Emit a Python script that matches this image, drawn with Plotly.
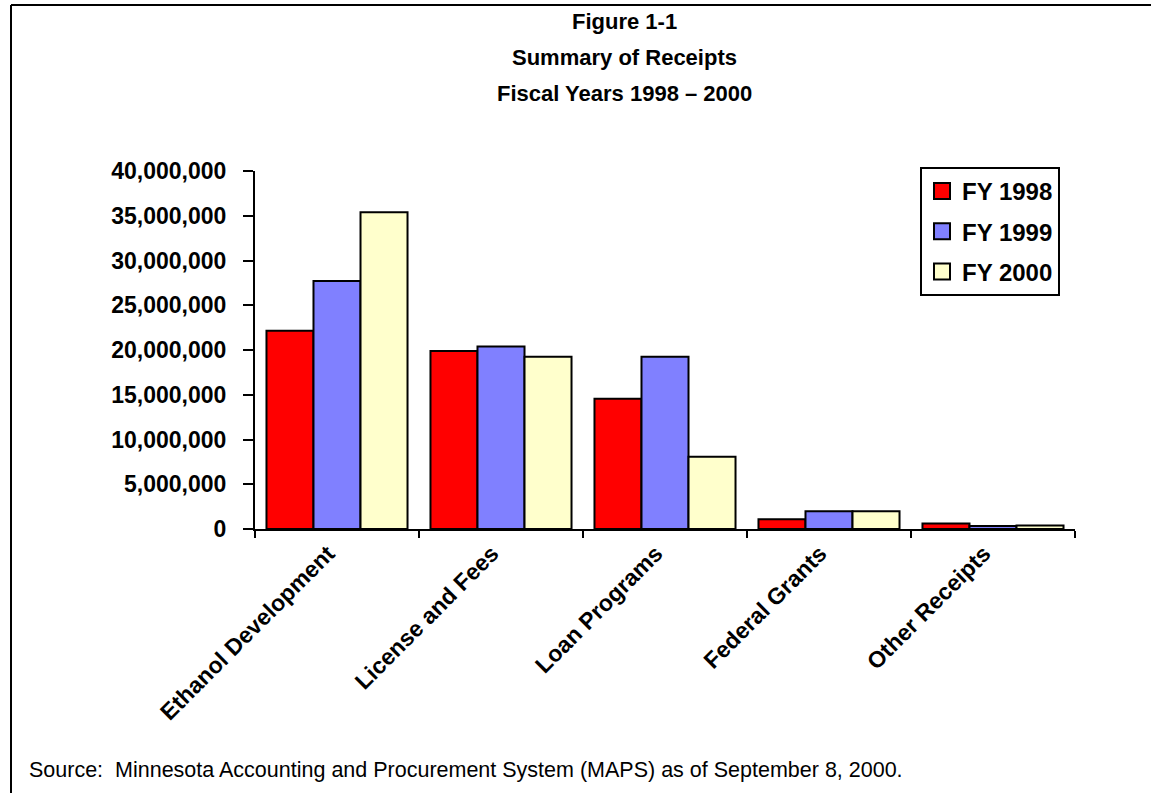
import plotly.graph_objects as go

categories = ["Ethanol Development", "License and Fees", "Loan Programs", "Federal Grants", "Other Receipts"]
series_names = ["FY 1998", "FY 1999", "FY 2000"]
fy1998 = [22150000, 19900000, 14560000, 1090000, 620000]
fy1999 = [27700000, 20400000, 19250000, 1980000, 330000]
fy2000 = [35400000, 19250000, 8080000, 1980000, 390000]
colors = ["#FF0000", "#8080FF", "#FFFFCC"]
y_tick_values = [0, 5000000, 10000000, 15000000, 20000000, 25000000, 30000000, 35000000, 40000000]
y_tick_labels = ["0", "5,000,000", "10,000,000", "15,000,000", "20,000,000",
                 "25,000,000", "30,000,000", "35,000,000", "40,000,000"]
title_lines = ["Figure 1-1", "Summary of Receipts", "Fiscal Years 1998 \u2013 2000"]
source_text = "Source:  Minnesota Accounting and Procurement System (MAPS) as of September 8, 2000."

W, H = 1151, 793
L, R, T, B = 255, 76, 171, 264
PW, PH = W - L - R, H - T - B

def px(x):
    return (x - L) / PW

def py(y):
    return (H - B - y) / PH

FONT = "Liberation Sans, Arial, sans-serif"

fig = go.Figure()
for name, vals, col in zip(series_names, [fy1998, fy1999, fy2000], colors):
    fig.add_trace(go.Bar(
        x=categories, y=vals, name=name, showlegend=False,
        marker=dict(color=col, line=dict(color="black", width=2)),
    ))
for i, (name, col) in enumerate(zip(series_names, colors)):
    fig.add_trace(go.Scatter(
        x=[None], y=[None], mode="markers", name=name, legendgroup="g%d" % i,
        marker=dict(symbol="square", size=16, color=col, line=dict(color="black", width=2)),
    ))

fig.update_layout(
    width=W, height=H,
    margin=dict(l=L, r=R, t=T, b=B),
    paper_bgcolor="white", plot_bgcolor="white",
    barmode="group", bargap=0.14, bargroupgap=0,
    font=dict(family=FONT, color="black"),
    showlegend=True,
    legend=dict(
        x=px(920), y=py(167), xanchor="left", yanchor="top",
        bordercolor="black", borderwidth=2, bgcolor="white",
        font=dict(family=FONT, size=24, color="black", weight="bold"),
        tracegroupgap=6, itemwidth=30,
    ),
    xaxis=dict(
        type="category", showline=True, linecolor="black", linewidth=2,
        ticks="outside", ticklen=7, tickwidth=2, tickcolor="black",
        tickson="boundaries", tickangle=-45,
        tickfont=dict(family=FONT, size=23, color="black", weight="bold"),
        showgrid=False, zeroline=False, ticklabelstandoff=0, ticklabelshift=-9,
    ),
    yaxis=dict(
        range=[0, 40000000], showline=True, linecolor="black", linewidth=2,
        ticks="outside", ticklen=10, tickwidth=2, tickcolor="black",
        tickvals=y_tick_values, ticktext=y_tick_labels,
        tickfont=dict(family=FONT, size=23, color="black", weight="bold"),
        showgrid=False, zeroline=False, ticklabelstandoff=12,
    ),
    xaxis2=dict(
        overlaying="x", anchor="y2", range=[-0.5, len(categories) - 0.5],
        tickvals=[i - 0.5 for i in range(len(categories) + 1)],
        ticks="inside", ticklen=6, tickwidth=2, tickcolor="black",
        showticklabels=False, showline=False, showgrid=False, zeroline=False,
    ),
    yaxis2=dict(
        overlaying="y", anchor="x2", range=[0, 40000000],
        tickvals=y_tick_values, ticks="inside", ticklen=8, tickwidth=2,
        tickcolor="black", showticklabels=False, showline=False,
        showgrid=False, zeroline=False,
    ),
)

title_baselines = [31, 67, 103]
for line, base in zip(title_lines, title_baselines):
    fig.add_annotation(
        text="<b>%s</b>" % line, xref="paper", yref="paper",
        x=px(624), y=py(base + 5), xanchor="center", yanchor="bottom",
        showarrow=False, font=dict(family=FONT, size=22, color="black"),
    )

fig.add_annotation(
    text=source_text, xref="paper", yref="paper",
    x=px(27), y=py(784), xanchor="left", yanchor="bottom",
    showarrow=False, font=dict(family=FONT, size=21.5, color="black"),
)

fig.add_shape(type="line", xref="paper", yref="paper",
              x0=px(11), x1=px(11), y0=py(5), y1=py(800),
              line=dict(color="black", width=2))
fig.add_shape(type="line", xref="paper", yref="paper",
              x0=px(11), x1=px(1160), y0=py(5), y1=py(5),
              line=dict(color="black", width=2))

fig.write_html("out.html")
